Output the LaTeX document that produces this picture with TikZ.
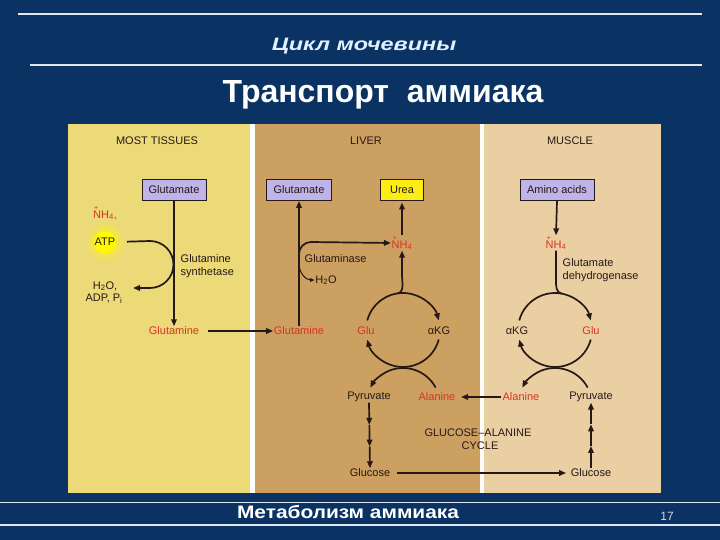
\documentclass[tikz,border=0pt]{standalone}
\usepackage{fontspec}
\setmainfont{Liberation Sans}
\usetikzlibrary{arrows.meta,calc}
\definecolor{bg}{RGB}{10,50,98}
\definecolor{mty}{RGB}{236,217,120}
\definecolor{livc}{RGB}{204,160,96}
\definecolor{musc}{RGB}{234,207,163}
\definecolor{lav}{RGB}{190,180,232}
\definecolor{ureay}{RGB}{252,238,20}
\definecolor{atpy}{RGB}{255,250,0}
\definecolor{ink}{RGB}{38,24,22}
\definecolor{redt}{RGB}{214,52,36}
\definecolor{titlec}{RGB}{225,240,255}
\newcommand{\ammon}{\rlap{\raisebox{0.75em}{\kern0.1em\scriptsize+}}NH\textsubscript{4}}
\begin{document}
\begin{tikzpicture}[x=1pt,y=1pt,
  lbl/.style={font=\fontsize{11}{12}\selectfont, text=ink, inner sep=0.5pt},
  rlbl/.style={lbl, text=redt},
  lbox/.style={lbl, draw=ink, line width=1pt, fill=lav, minimum height=21, inner sep=2pt},
  ybox/.style={lbox, fill=ureay},
  arr/.style={draw=ink, line width=1.7pt, -{Triangle[length=7pt,width=5.5pt]}},
  plain/.style={draw=ink, line width=1.7pt},
  thinarr/.style={draw=ink, line width=1pt, -{Triangle[length=4.5pt,width=3.5pt]}},
  wline/.style={draw=white!88!bg, line width=1.4pt}
]
\useasboundingbox (0,0) rectangle (720,-540);
\fill[bg] (0,0) rectangle (720,-540);
% header / footer lines
\draw[wline] (18,-14) -- (702,-14);
\draw[wline] (30,-65) -- (702,-65);
\draw[wline] (0,-502.5) -- (720,-502.5);
\draw[wline] (0,-525) -- (720,-525);
\node[font=\bfseries\itshape\fontsize{18}{20}\selectfont, text=titlec] (t1) at (364,-46) {\scalebox{1.3}[1]{Цикл мочевины}};
\node[font=\bfseries\fontsize{32}{35}\selectfont, text=white] (t2) at (383,-95) {Транспорт\ \ аммиака};
\node[font=\bfseries\fontsize{18}{20}\selectfont, text=white] (ft) at (348,-512) {\scalebox{1.16}[1]{Метаболизм аммиака}};
\node[font=\fontsize{12}{14}\selectfont, text=white!80!bg] (pg) at (667,-516) {17};
% panels
\fill[white!95!mty] (68,-124) rectangle (661,-493);
\fill[mty] (68,-124) rectangle (250,-493);
\fill[livc] (254.5,-124) rectangle (480,-493);
\fill[musc] (484,-124) rectangle (661,-493);
% ---------------- MOST TISSUES
\node[lbl] (hA) at (157,-141) {MOST TISSUES};
\node[lbox, minimum width=64] (glutA) at (174,-190) {Glutamate};
\node[rlbl] (nhA) at (105,-213) {\ammon,};
\shade[inner color=atpy, outer color=mty] (105,-242) circle (20);
\fill[atpy] (105,-242) circle (11);
\node[lbl] (atp) at (105,-242) {ATP};
\node[lbl] (h2oA) at (105,-286) {H\textsubscript{2}O,};
\node[lbl] (adp) at (104,-299) {ADP, P\textsubscript{i}};
\node[lbl, anchor=west] (gs1) at (180,-259) {Glutamine};
\node[lbl, anchor=west] (gs2) at (180,-273) {synthetase};
\node[rlbl] (glnA) at (174,-331) {Glutamine};
\coordinate (h2oin) at (133,-288);
\draw[arr] (glutA.south) -- (glnA.north);
\draw[arr, shorten <=11pt] (atp.east) -- (150,-241) arc[start angle=90,end angle=-90,radius=23.5] -- (h2oin);
% ---------------- LIVER
\node[lbl] (hB) at (366,-141) {LIVER};
\node[lbox, minimum width=65] (glutB) at (299,-190) {Glutamate};
\node[ybox, minimum width=43] (urea) at (402,-190) {Urea};
\node[rlbl] (glnB) at (299,-331) {Glutamine};
\node[rlbl] (nhB) at (402,-243) {\ammon};
\node[lbl, anchor=west] (gase) at (304,-259) {Glutaminase};
\node[lbl] (h2oB) at (326,-280) {H\textsubscript{2}O};
\draw[arr, shorten <=8pt] (glnA.east) -- (glnB.west);
\draw[arr] (glnB.north) -- (glutB.south);
\coordinate (brB) at (299,-254);
\draw[arr] (brB) arc[start angle=180,end angle=90,radius=12] -- (nhB.west);
\coordinate (brH) at (299,-264);
\draw[thinarr] (brH) to[out=-90,in=180] (h2oB.west);
\draw[arr, shorten >=1.5pt] (nhB.north) -- (urea.south);
\coordinate (lc) at (403,-330);
\node[rlbl] (gluB) at (366,-331) {Glu};
\node[lbl] (akgB) at (439,-331) {αKG};
\draw[arr] ([shift={(165:37)}]lc) arc[start angle=165,end angle=15,radius=37];
\draw[arr] ([shift={(-15:37)}]lc) arc[start angle=-15,end angle=-165,radius=37];
\draw[arr] ([shift={(99:37)}]lc) to[out=8,in=-90] ($(nhB.south)+(0,-24)$) -- (nhB.south);
\coordinate (lc2) at (403,-405);
\node[lbl] (pyrB) at (369,-397) {Pyruvate};
\node[rlbl] (alaB) at (437,-397) {Alanine};
\draw[arr] ([shift={(28:37)}]lc2) arc[start angle=28,end angle=152,radius=37];
\node[lbl] (glcB) at (370,-473) {Glucose};
\path (pyrB.south) -- (glcB.north) coordinate[pos=0.34] (pb1) coordinate[pos=0.67] (pb2);
\draw[arr] (pyrB.south) -- (pb1);
\draw[arr] (pb1) -- (pb2);
\draw[arr] (pb2) -- (glcB.north);
% ---------------- MUSCLE
\node[lbl] (hC) at (570,-141) {MUSCLE};
\node[lbox, minimum width=74] (amino) at (557,-190) {Amino acids};
\node[rlbl] (nhC) at (556,-243) {\ammon};
\node[lbl, anchor=west] (gd1) at (562,-263) {Glutamate};
\node[lbl, anchor=west] (gd2) at (562,-277) {dehydrogenase};
\draw[arr] (amino.south) -- (nhC.north);
\coordinate (mc) at (555,-330);
\node[lbl] (akgC) at (517,-331) {αKG};
\node[rlbl] (gluC) at (591,-331) {Glu};
\draw[arr] ([shift={(165:37)}]mc) arc[start angle=165,end angle=15,radius=37];
\draw[arr] ([shift={(-15:37)}]mc) arc[start angle=-15,end angle=-165,radius=37];
\draw[plain] (nhC.south) -- ($(nhC.south)+(0,-30)$) to[out=-90,in=170] ([shift={(80:37)}]mc);
\coordinate (mc2) at (555,-405);
\node[rlbl] (alaC) at (521,-397) {Alanine};
\node[lbl] (pyrC) at (591,-397) {Pyruvate};
\draw[arr] ([shift={(28:37)}]mc2) arc[start angle=28,end angle=152,radius=37];
\node[lbl] (glcC) at (591,-473) {Glucose};
\path (glcC.north) -- (pyrC.south) coordinate[pos=0.34] (pc1) coordinate[pos=0.67] (pc2);
\draw[arr] (glcC.north) -- (pc1);
\draw[arr] (pc1) -- (pc2);
\draw[arr] (pc2) -- (pyrC.south);
% cross arrows
\draw[arr, shorten <=1pt, shorten >=5pt] (alaC.west) -- (alaB.east);
\draw[arr, shorten <=6pt, shorten >=4pt] (glcB.east) -- (glcC.west);
\node[lbl] (gac1) at (478,-433) {GLUCOSE–ALANINE};
\node[lbl] (gac2) at (480,-446) {CYCLE};
\end{tikzpicture}
\end{document}
